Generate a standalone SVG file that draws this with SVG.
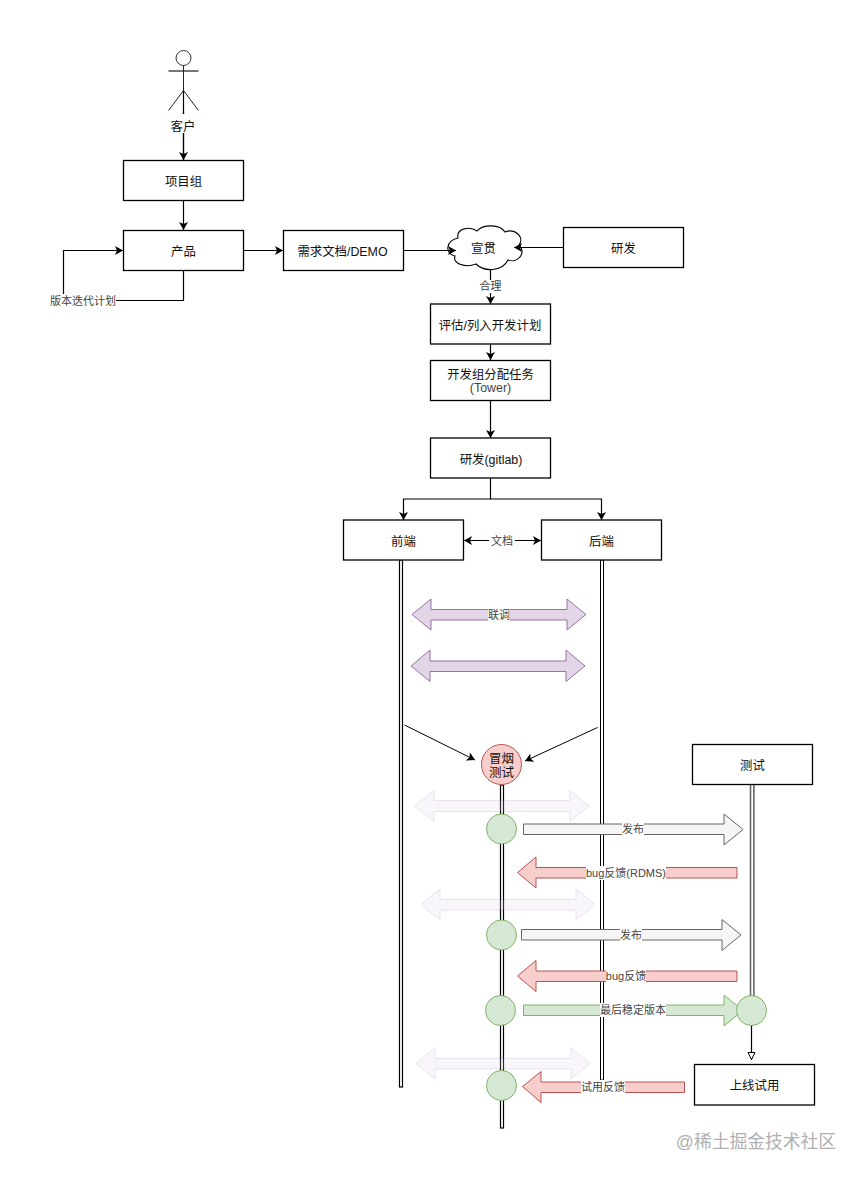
<svg xmlns="http://www.w3.org/2000/svg" width="865" height="1179" viewBox="0 0 865 1179">
<style>
text{font-family:"Liberation Sans","Noto Sans CJK SC",sans-serif;font-size:12.400px;fill:#111;text-anchor:middle}
.box{fill:#fff;stroke:#000;stroke-width:1.3}
.ln{fill:none;stroke:#000;stroke-width:1.2}
.arr{marker-end:url(#a)}
.life{fill:#fff;stroke:#000;stroke-width:1.2}
.pur{fill:#e1d5e7;stroke:#9673a6}
.fnt{fill:#e1d5e7;stroke:#9673a6;opacity:.2}
.gry{fill:#f5f5f5;stroke:#666}
.red{fill:#f8cecc;stroke:#b85450}
.grn{fill:#d5e8d4;stroke:#82b366}
.lbl{fill:#fff}
.sm{font-size:11px;fill:#444}
</style>
<defs>
<marker id="a" markerUnits="userSpaceOnUse" markerWidth="9" markerHeight="10" refX="8" refY="4.500" orient="auto-start-reverse"><path d="M0 0L8 4.500L0 9L2 4.500Z" fill="#000"/></marker>
<marker id="o" markerUnits="userSpaceOnUse" markerWidth="10" markerHeight="10" refX="8" refY="4" orient="auto"><path d="M0.500 .5L7.500 4L0.500 7.500Z" fill="#fff" stroke="#000"/></marker>
</defs>
<rect width="865" height="1179" fill="#fff"/>

<g id="lifelines">
<rect class="life" x="399.500" y="560" width="3" height="527"/>
<rect x="600.500" y="560" width="3" height="520" fill="#fff" stroke="#000" stroke-width="1"/>
<rect class="life" x="500.500" y="785" width="3" height="343"/>
<rect x="750.500" y="784" width="3.400" height="212" fill="#fff" stroke="#666" stroke-width="1.600"/>
</g>

<g id="node-cloud"><path d="M458 238C456 228 470 226 477 231C483 224 500 224 505 232C515 228 525 237 519 245C527 252 518 264 508 260C502 272 484 272 476 264C466 268 452 264 455 256C445 254 445 241 458 238Z" fill="#fff" stroke="#000" stroke-width="1.100"/><text x="483.500" y="253">宣贯</text></g>

<g id="connectors">
<path class="ln arr" d="M183.500 90V160"/>
<path class="ln arr" d="M183.500 200.500V230"/>
<path class="ln arr" d="M243.500 250.500H283"/>
<path class="ln arr" d="M183.500 270.500V300.500H63.500V250.500H123"/>
<path class="ln arr" d="M403.500 250.500H456"/>
<path class="ln arr" d="M563.500 247.500H514"/>
<path class="ln arr" d="M490.500 270V304"/>
<path class="ln arr" d="M490.500 343.500V360"/>
<path class="ln arr" d="M490.500 400.500V438"/>
<path class="ln arr" d="M490.500 477.500V499H403.500V520"/>
<path class="ln arr" d="M490.500 499H601.500V520"/>
<path class="ln arr" d="M541 540.500H464"/>
<path class="ln arr" d="M464 540.500H541"/>
<path d="M404.500 725L475 760" class="ln arr" style="stroke-width:1"/>
<path d="M597.500 727.500L525 761" class="ln arr" style="stroke-width:1"/>
<path d="M751.500 1025V1060" class="ln" marker-end="url(#o)"/>
</g>

<g id="actor-customer">
<circle cx="183.500" cy="58" r="7.500" fill="#fff" stroke="#333" stroke-width="1"/>
<path d="M168.500 71H198.500" stroke="#777" stroke-width="2" fill="none"/>
<path d="M183.500 65.500V90.500L168.500 110.500M183.500 90.500L198.500 110.500" stroke="#222" stroke-width="1" fill="none"/>
<path d="M183.500 111V160" class="ln"/>
<rect class="lbl" x="169" y="114" width="29" height="19"/>
<text x="183" y="131" style="font-size:12.500px">客户</text>
</g>
<g id="node-project"><rect class="box" x="123.500" y="160.500" width="120" height="40"/><text x="183.500" y="186">项目组</text></g>
<g id="node-product"><rect class="box" x="123.500" y="230.500" width="120" height="40"/><text x="183.500" y="256">产品</text></g>
<g id="label-plan"><rect class="lbl" x="50" y="294" width="66" height="14"/><text class="sm" x="83" y="305">版本迭代计划</text></g>
<g id="node-doc"><rect class="box" x="283.500" y="230.500" width="120" height="40"/><text x="342.500" y="256">需求文档/DEMO</text></g>
<g id="node-rd"><rect class="box" x="563.500" y="227.500" width="120" height="40"/><text x="623.500" y="253">研发</text></g>
<g id="label-reasonable"><rect class="lbl" x="479" y="280" width="23" height="13"/><text class="sm" x="490.500" y="290">合理</text></g>
<g id="node-assess"><rect class="box" x="430.500" y="304" width="120" height="40"/><text x="490" y="330">评估/列入开发计划</text></g>
<g id="node-assign"><rect class="box" x="430.500" y="360.500" width="120" height="40"/><text x="490.500" y="379">开发组分配任务</text><text x="490.500" y="392" style="fill:#444">(Tower)</text></g>
<g id="node-gitlab"><rect class="box" x="430.500" y="438" width="120" height="40"/><text x="491" y="464">研发(gitlab)</text></g>
<g id="node-frontend"><rect class="box" x="343.500" y="520" width="120" height="40"/><text x="403.500" y="546">前端</text></g>
<g id="node-backend"><rect class="box" x="541.500" y="520" width="120" height="40"/><text x="601.500" y="546">后端</text></g>
<g id="label-doc"><rect class="lbl" x="489" y="533" width="26" height="15"/><text class="sm" x="502" y="545">文档</text></g>

<g id="arrow-joint1"><path class="pur" d="M412 614.500L431 599V609.500H567V599L586 614.500L567 630V620H431V630Z"/><rect class="lbl" x="488" y="608" width="22" height="13"/><text class="sm" x="499" y="619">联调</text></g>
<g id="arrow-joint2"><path class="pur" d="M411 666L430 650V661H566V650L585 666L566 681.500V671.500H430V681.500Z"/></g>

<g id="node-smoke"><circle cx="501.500" cy="764.500" r="20" fill="#f8cecc" stroke="#b85450"/><text x="501.500" y="763" style="font-size:12.500px">冒烟</text><text x="501.500" y="777" style="font-size:12.500px">测试</text></g>
<g id="node-test"><rect class="box" x="692.500" y="744.500" width="120" height="40"/><text x="752.500" y="770">测试</text></g>

<g id="arrow-faint1"><path class="fnt" d="M415 806L434 790.500V800.500H570V790.500L589 806L570 821.500V811.500H434V821.500Z"/></g>
<g id="arrow-faint2"><path class="fnt" d="M421 904.500L440 889V899.500H576V889L595 904.500L576 920V910H440V920Z"/></g>
<g id="arrow-faint3"><path class="fnt" d="M416 1063.500L435 1048V1058.500H571V1048L590 1063.500L571 1079V1069H435V1079Z"/></g>

<g id="node-c1"><circle class="grn" cx="501.500" cy="829" r="15"/></g>
<g id="node-c2"><circle class="grn" cx="501.500" cy="935" r="15"/></g>
<g id="node-c3"><circle class="grn" cx="500.500" cy="1010.500" r="15"/></g>
<g id="node-c4"><circle class="grn" cx="501.500" cy="1085.500" r="15"/></g>

<g id="arrow-release1"><path class="gry" d="M523.500 824H724V814L743 829.500L724 845V834.500H523.500Z"/><rect class="lbl" x="622" y="822" width="22" height="14"/><text class="sm" x="633" y="833">发布</text></g>
<g id="arrow-bug1"><path class="red" d="M737 867.500H536V857L517.500 872.500L536 888V878H737Z"/><rect class="lbl" x="586" y="866" width="80" height="14"/><text x="626" y="877" class="sm">bug反馈(RDMS)</text></g>
<g id="arrow-release2"><path class="gry" d="M521.500 929.500H722V919.500L741 935L722 950.500V940H521.500Z"/><rect class="lbl" x="620" y="928" width="22" height="14"/><text class="sm" x="631" y="939">发布</text></g>
<g id="arrow-bug2"><path class="red" d="M737 971H536V960.500L517.500 976L536 991.500V981.500H737Z"/><rect class="lbl" x="606" y="969" width="40" height="14"/><text class="sm" x="626" y="980">bug反馈</text></g>
<g id="arrow-final"><path class="grn" d="M523.500 1005H724V995L743 1010.500L724 1026V1015.500H523.500Z"/><rect class="lbl" x="600" y="1003" width="66" height="14"/><text class="sm" x="633" y="1014">最后稳定版本</text></g>
<g id="node-c5"><circle class="grn" cx="751.500" cy="1010.500" r="15"/></g>
<g id="arrow-trial"><path class="red" d="M684.500 1082H541V1071.500L522.500 1086.500L541 1102.500V1092.500H684.500Z"/><rect class="lbl" x="581" y="1080" width="44" height="14"/><text class="sm" x="603" y="1091">试用反馈</text></g>
<g id="node-launch"><rect class="box" x="694.500" y="1064.500" width="120" height="40.500"/><text x="754.500" y="1090">上线试用</text></g>

<text x="756" y="1148" style="font-size:17.800px;fill:#b0b0b0">@稀土掘金技术社区</text>
</svg>
